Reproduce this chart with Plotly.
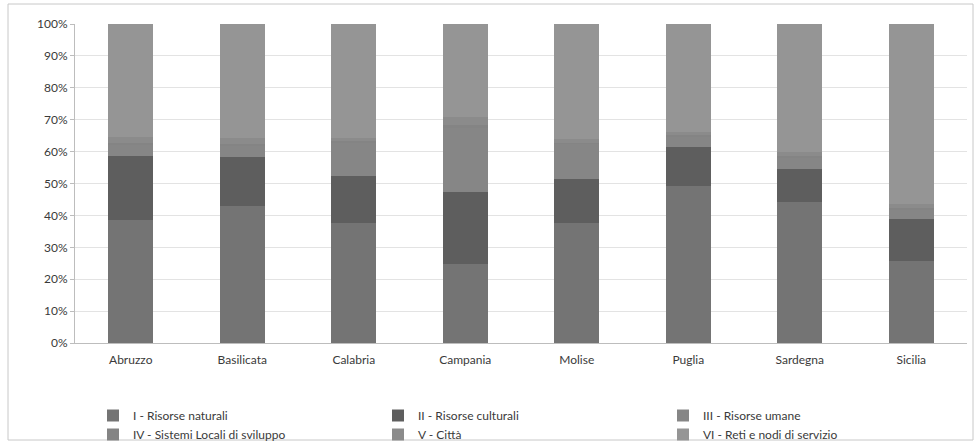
import plotly.graph_objects as go

regions = ["Abruzzo", "Basilicata", "Calabria", "Campania", "Molise", "Puglia", "Sardegna", "Sicilia"]
series_names = ["I - Risorse naturali", "II - Risorse culturali", "III - Risorse umane",
                "IV - Sistemi Locali di sviluppo", "V - Città", "VI - Reti e nodi di servizio"]

s1 = [38.5, 42.9, 37.7, 24.9, 37.7, 49.2, 44.2, 25.7]
s2 = [20.2, 15.5, 14.7, 22.5, 13.7, 12.3, 10.2, 13.3]
s3 = [3.6, 3.5, 10.5, 20.0, 11.0, 3.2, 3.8, 3.0]
s4 = [0.4, 0.5, 0.3, 0.8, 0.4, 0.4, 0.3, 0.4]
s5 = [2.0, 1.8, 1.2, 2.7, 1.0, 1.1, 1.4, 1.1]
s6 = [35.3, 35.8, 35.6, 29.1, 36.2, 33.8, 40.1, 56.5]

tick_vals = [0, 10, 20, 30, 40, 50, 60, 70, 80, 90, 100]
tick_text = ["0%", "10%", "20%", "30%", "40%", "50%", "60%", "70%", "80%", "90%", "100%"]

colors = ["#747474", "#5e5e5e", "#868686", "#848484", "#8b8b8b", "#959595"]

fig = go.Figure()
for name, vals, col in zip(series_names, [s1, s2, s3, s4, s5, s6], colors):
    fig.add_trace(go.Bar(x=regions, y=vals, name=name, marker=dict(color=col, line=dict(width=0))))

fig.update_layout(
    width=978, height=445,
    barmode="stack", bargap=0.6,
    paper_bgcolor="white", plot_bgcolor="white",
    margin=dict(l=75, r=11, t=24, b=102, autoexpand=False),
    font=dict(family="Lato, Open Sans, sans-serif", size=12, color="#3a3a3a"),
    showlegend=True,
    legend=dict(orientation="h", xref="container", yref="container",
                x=93 / 978, y=1 - 401 / 445, xanchor="left", yanchor="top",
                entrywidth=240, entrywidthmode="pixels", traceorder="normal",
                bgcolor="rgba(0,0,0,0)",
                font=dict(size=12, color="#3a3a3a"), itemwidth=30,
                tracegroupgap=0),
    shapes=[dict(type="rect", xref="paper", yref="paper",
                 x0=(8 - 75) / 892, x1=(973 - 75) / 892,
                 y0=(343 - 440) / 319, y1=(343 - 4) / 319,
                 line=dict(color="#c8c8c8", width=1), fillcolor="rgba(0,0,0,0)", layer="below")],
)
fig.update_xaxes(showline=True, linecolor="#bdbdbd", linewidth=1, ticks="", tickfont=dict(size=12),
                 ticklabelstandoff=6)
fig.update_yaxes(range=[0, 100], tickvals=tick_vals, ticktext=tick_text, showgrid=True,
                 gridcolor="#e3e3e3", gridwidth=1, showline=True, linecolor="#bdbdbd",
                 ticks="outside", ticklen=4, tickcolor="#bdbdbd", zeroline=False,
                 tickfont=dict(size=12))
fig.write_html("out.html", config={"displayModeBar": False},
               post_script="document.body.style.margin='0';")
